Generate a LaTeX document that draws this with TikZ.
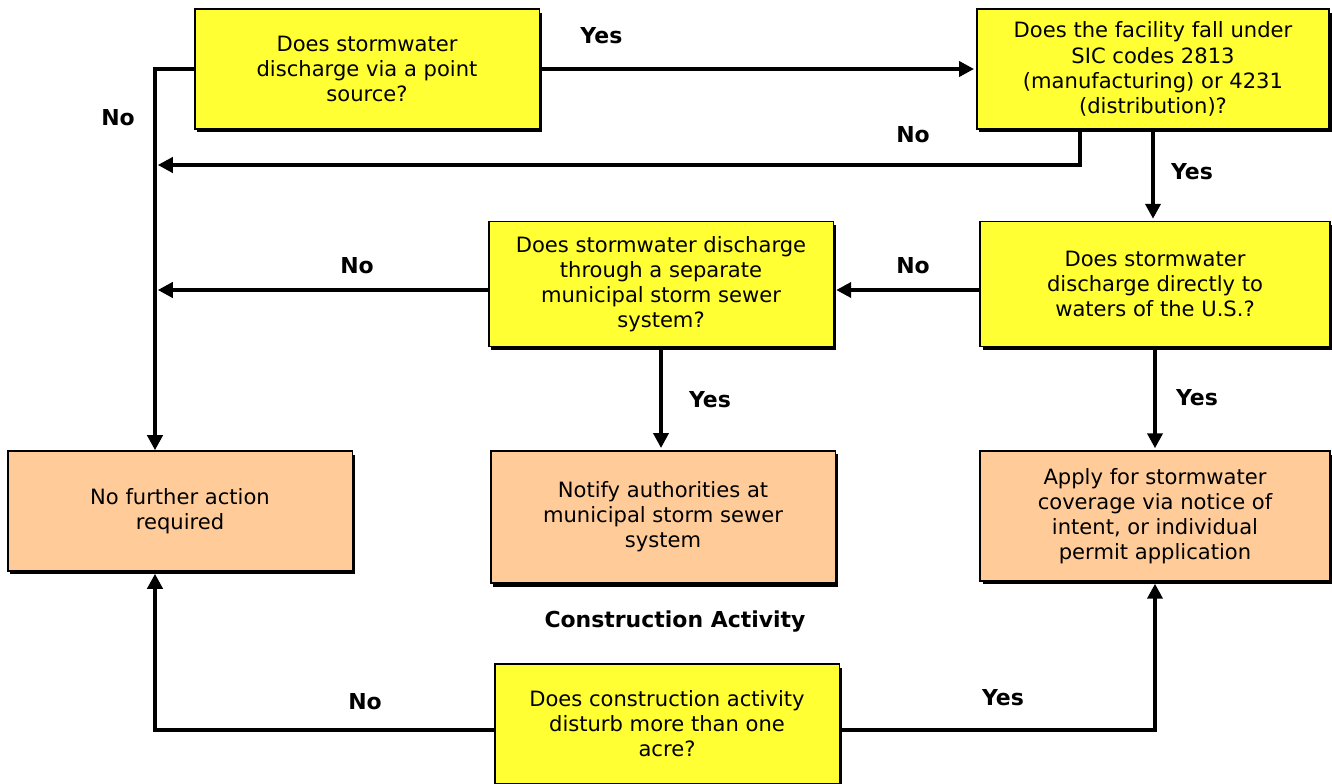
\documentclass[tikz,border=0pt]{standalone}
\usepackage{fontspec}
\setmainfont{DejaVu Sans}
\usetikzlibrary{arrows.meta,shadows,calc}
\definecolor{qyellow}{RGB}{255,255,51}
\definecolor{qorange}{RGB}{255,204,153}
\begin{document}
\begin{tikzpicture}[x=0.02cm,y=-0.02cm,
    box/.style={draw,line width=1.1pt,align=center,minimum width=6.9cm,minimum height=2.4cm,
      font=\fontsize{12}{14.3}\selectfont,
      drop shadow={shadow xshift=0.05cm,shadow yshift=-0.07cm,fill=black,opacity=1}},
    ask/.style={box,fill=qyellow},
    act/.style={box,fill=qorange},
    lab/.style={font=\bfseries\fontsize{12.5}{14}\selectfont},
    flow/.style={line width=2.6pt,shorten >=1pt,-{Triangle[length=0.3cm,width=0.3cm]}}]
  \useasboundingbox (0,0) rectangle (1332,784);
  \node[ask] (A) at (367,69) {Does stormwater\\discharge via a point\\source?};
  \node[ask,minimum width=7.05cm] (B) at (1153,69) {Does the facility fall under\\SIC codes 2813\\(manufacturing) or 4231\\(distribution)?};
  \node[ask,minimum width=7cm,minimum height=2.5cm] (C) at (1155,284) {Does stormwater\\discharge directly to\\waters of the U.S.?};
  \node[ask,minimum height=2.5cm] (D) at (661,284) {Does stormwater discharge\\through a separate\\municipal storm sewer\\system?};
  \node[act] (E) at (180,511) {No further action\\required};
  \node[act,minimum height=2.65cm] (F) at (663,517) {Notify authorities at\\municipal storm sewer\\system};
  \node[act,minimum width=7cm,minimum height=2.6cm] (G) at (1155,516) {Apply for stormwater\\coverage via notice of\\intent, or individual\\permit application};
  \node[ask] (H) at (667,724) {Does construction activity\\disturb more than one\\acre?};
  \node[lab] (cons) at (675,622) {Construction Activity};
  \coordinate (eTop) at (155,452);
  \coordinate (eBot) at (155,572);
  \coordinate (noB) at (156,165);
  \coordinate (noD) at (156,290);
  \coordinate (hOut) at (667,730);
  \draw[flow] (A.east) -- (B.west) node[lab,pos=0.14,above=0.35cm] (y1) {Yes};
  \draw[flow] (A.west) -| (eTop);
  \draw[flow] ($(B.south)+(-73,0)$) |- (noB);
  \draw[flow] (B.south) -- (B.south |- C.north);
  \draw[flow] (C.west |- noD) -- (D.east |- noD);
  \draw[flow] (D.west |- noD) -- (noD);
  \draw[flow] (D.south) -- (D.south |- F.north);
  \draw[flow] (C.south) -- (C.south |- G.north);
  \draw[flow] (H.west |- hOut) -| (eBot);
  \draw[flow] (H.east |- hOut) -| (G.south);
  \node[lab] (n1) at (118,118) {No};
  \node[lab] (n2) at (913,135) {No};
  \node[lab] (y2) at (1192,172) {Yes};
  \node[lab] (n3) at (913,266) {No};
  \node[lab] (n4) at (357,266) {No};
  \node[lab] (y3) at (710,400) {Yes};
  \node[lab] (y4) at (1197,398) {Yes};
  \node[lab] (n5) at (365,702) {No};
  \node[lab] (y5) at (1003,698) {Yes};
\end{tikzpicture}
\end{document}
